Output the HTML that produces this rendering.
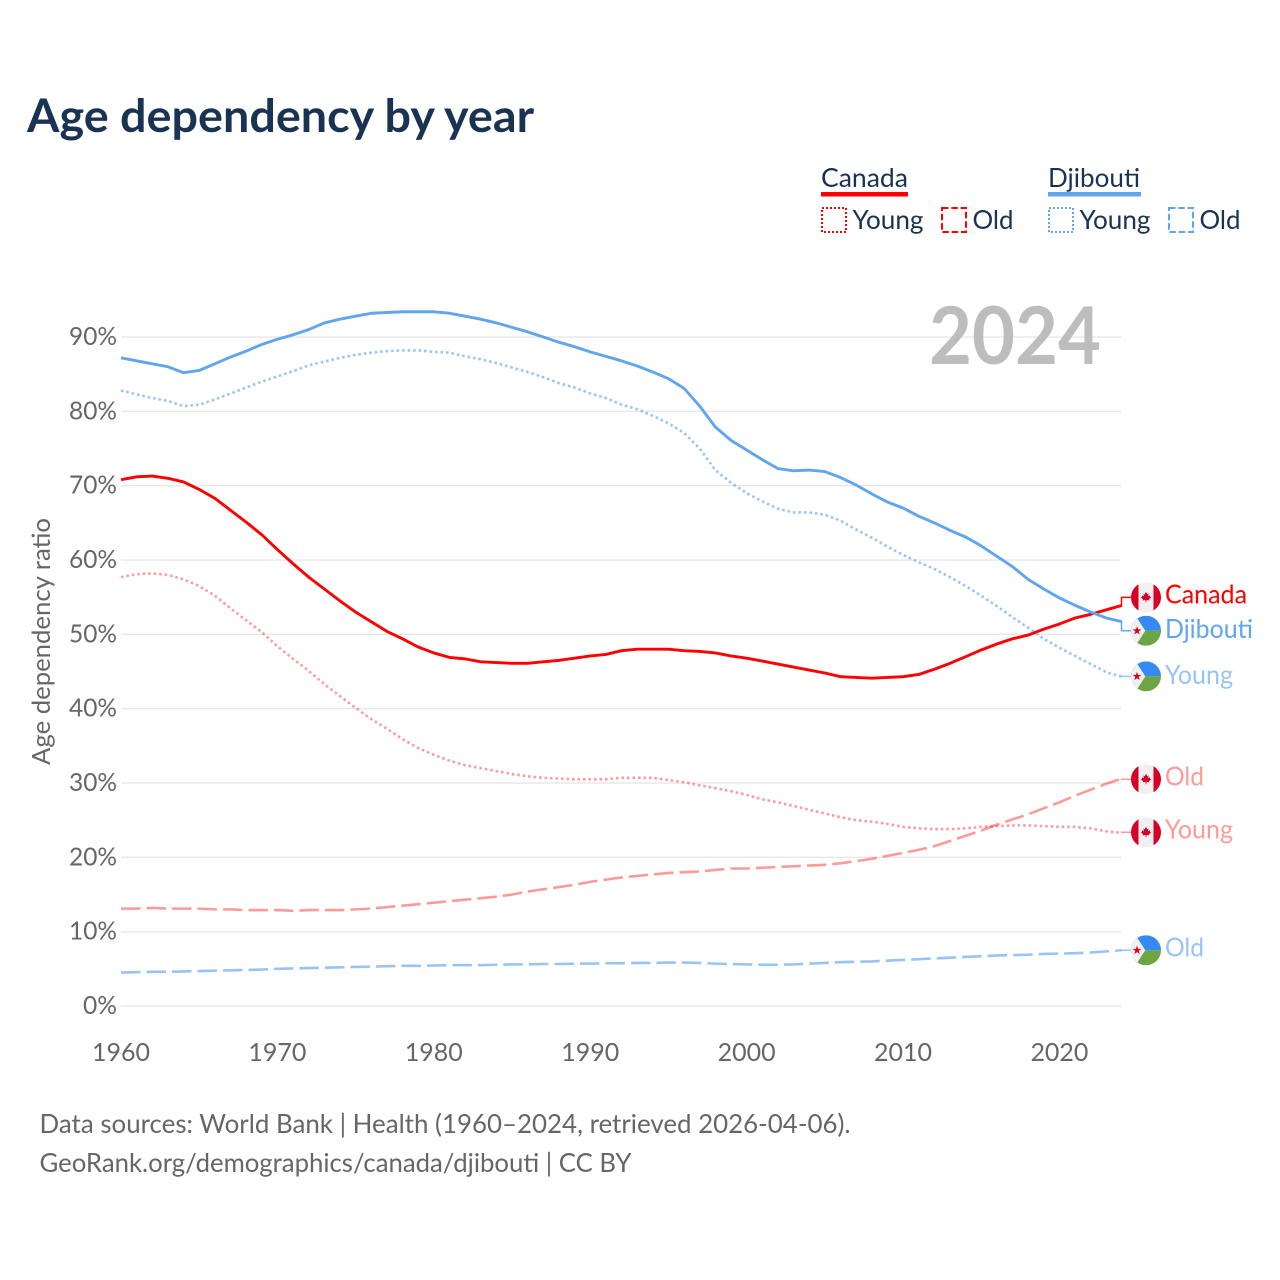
<!DOCTYPE html>
<html lang="en">
<head>
<meta charset="utf-8">
<title>Age dependency by year</title>
<style>
html,body{margin:0;padding:0;background:#fff;}
svg{display:block;font-family:"Lato","Carlito","Liberation Sans",sans-serif;}
</style>
</head>
<body>
<svg id="chart" xmlns="http://www.w3.org/2000/svg" width="1280" height="1280" viewBox="0 0 1280 1280">
  <defs>
    <clipPath id="flag-clip"><circle cx="0" cy="0" r="15"></circle></clipPath>
    <g id="flag-canada" clip-path="url(#flag-clip)">
      <rect x="-15" y="-15" width="30" height="30" fill="#f0f0f0"></rect>
      <rect x="-15" y="-15" width="7.5" height="30" fill="#d80027"></rect>
      <rect x="7.5" y="-15" width="7.5" height="30" fill="#d80027"></rect>
      <polygon fill="#d80027" points="0,-5.5 1.3,-3 2.6,-3.7 2.1,-1 4,-2 4,-0.5 5.2,0 3,1.9 3.4,3 0.4,2.8 0.4,5 -0.4,5 -0.4,2.8 -3.4,3 -3,1.9 -5.2,0 -4,-0.5 -4,-2 -2.1,-1 -2.6,-3.7 -1.3,-3"></polygon>
    </g>
    <g id="flag-djibouti" clip-path="url(#flag-clip)">
      <rect x="-15" y="-15" width="30" height="30" fill="#f0f0f0"></rect>
      <rect x="-15" y="-15" width="30" height="15" fill="#338af3"></rect>
      <rect x="-15" y="0" width="30" height="15" fill="#6da544"></rect>
      <polygon fill="#f0f0f0" points="-15,-15 -10.4,-15 -0.7,0 -10.4,15 -15,15"></polygon>
      <polygon fill="#d80027" points="-9,-4.5 -7.9,-1.4 -4.6,-1.4 -7.3,0.6 -6.3,3.8 -9,1.9 -11.7,3.8 -10.7,0.6 -13.4,-1.4 -10.1,-1.4"></polygon>
    </g>
  </defs>

  <text x="27" y="132" font-size="46" font-weight="700" fill="#1a3353" textLength="507" lengthAdjust="spacingAndGlyphs">Age dependency by year</text>

  <g>
    <text x="821" y="187" font-size="26" fill="#1a3353" textLength="87" lengthAdjust="spacingAndGlyphs">Canada</text>
    <rect x="821" y="192" width="87" height="4.5" fill="#ff0000"></rect>
    <rect x="822" y="208" width="24" height="24" fill="none" stroke="#ff0000" stroke-width="2" stroke-dasharray="2 2"></rect>
    <text x="852.5" y="229" font-size="26" fill="#1a3353" textLength="71" lengthAdjust="spacingAndGlyphs">Young</text>
    <rect x="942" y="208" width="24" height="24" fill="none" stroke="#ff0000" stroke-width="2" stroke-dasharray="6.5 2.8"></rect>
    <text x="972.5" y="229" font-size="26" fill="#1a3353" textLength="41" lengthAdjust="spacingAndGlyphs">Old</text>

    <text x="1048" y="187" font-size="26" fill="#1a3353" textLength="92" lengthAdjust="spacingAndGlyphs">Djibouti</text>
    <rect x="1048" y="192" width="93" height="4.5" fill="#61a5ee"></rect>
    <rect x="1049" y="208" width="24" height="24" fill="none" stroke="#61a5ee" stroke-width="2" stroke-dasharray="2 2"></rect>
    <text x="1079.5" y="229" font-size="26" fill="#1a3353" textLength="71" lengthAdjust="spacingAndGlyphs">Young</text>
    <rect x="1169" y="208" width="24" height="24" fill="none" stroke="#61a5ee" stroke-width="2" stroke-dasharray="6.5 2.8"></rect>
    <text x="1199.5" y="229" font-size="26" fill="#1a3353" textLength="41" lengthAdjust="spacingAndGlyphs">Old</text>
  </g>

  <g id="grid"></g>
  <g id="y-axis"></g>
  <g id="x-axis"></g>

  <text x="929" y="364" font-size="80" font-weight="700" fill="#bdbdbd" textLength="172" lengthAdjust="spacingAndGlyphs">2024</text>

  <text transform="translate(50,765) rotate(-90)" x="0" y="0" font-size="25" fill="#666666" textLength="247" lengthAdjust="spacingAndGlyphs">Age dependency ratio</text>

  <g id="series"></g>
  <g id="labels"></g>

  <text x="39.5" y="1133" font-size="26" fill="#666666" textLength="811" lengthAdjust="spacingAndGlyphs">Data sources: World Bank | Health (1960–2024, retrieved 2026-04-06).</text>
  <text x="39.5" y="1172" font-size="26" fill="#666666" textLength="592" lengthAdjust="spacingAndGlyphs">GeoRank.org/demographics/canada/djibouti | CC BY</text>
</svg>

<script>
var startYear = 1960;
var endYear = 2024;
var yTicks = [0, 10, 20, 30, 40, 50, 60, 70, 80, 90];
var xTicks = [1960, 1970, 1980, 1990, 2000, 2010, 2020];

var canadaTotal = [70.8,71.2,71.3,71.0,70.5,69.5,68.3,66.7,65.1,63.4,61.4,59.5,57.7,56.1,54.5,53.0,51.7,50.4,49.4,48.3,47.5,46.9,46.7,46.3,46.2,46.1,46.1,46.3,46.5,46.8,47.1,47.3,47.8,48.0,48.0,48.0,47.8,47.7,47.5,47.1,46.8,46.4,46.0,45.6,45.2,44.8,44.3,44.2,44.1,44.2,44.3,44.6,45.3,46.1,47.0,47.9,48.7,49.4,49.9,50.7,51.4,52.2,52.7,53.3,53.9];
var canadaYoung = [57.7,58.1,58.2,58.0,57.4,56.5,55.2,53.5,51.9,50.3,48.4,46.7,45.1,43.3,41.7,40.1,38.6,37.3,35.9,34.7,33.8,33.0,32.4,32.0,31.6,31.2,30.9,30.7,30.6,30.5,30.5,30.5,30.7,30.7,30.7,30.4,30.1,29.7,29.3,28.9,28.4,27.8,27.4,26.9,26.4,25.9,25.4,25.0,24.8,24.5,24.1,23.9,23.8,23.8,23.9,24.1,24.2,24.3,24.3,24.2,24.1,24.1,23.9,23.5,23.3];
var canadaOld = [13.1,13.1,13.2,13.1,13.1,13.1,13.0,13.0,12.9,12.9,12.9,12.8,12.9,12.9,12.9,13.0,13.1,13.3,13.5,13.7,13.9,14.1,14.3,14.5,14.7,15.0,15.4,15.7,16.0,16.3,16.7,17.0,17.3,17.5,17.7,17.9,18.0,18.1,18.3,18.5,18.5,18.6,18.7,18.8,18.9,19.0,19.2,19.5,19.8,20.2,20.6,21.0,21.5,22.2,22.9,23.6,24.4,25.1,25.8,26.6,27.4,28.3,29.1,29.9,30.6];
var djiboutiTotal = [87.2,86.8,86.4,86.0,85.2,85.5,86.4,87.3,88.1,89.0,89.7,90.3,91.0,91.9,92.4,92.8,93.2,93.3,93.4,93.4,93.4,93.2,92.8,92.4,91.9,91.3,90.7,90.0,89.3,88.7,88.0,87.4,86.8,86.1,85.3,84.4,83.1,80.7,77.9,76.1,74.8,73.5,72.3,72.0,72.1,71.9,71.1,70.1,68.9,67.8,67.0,65.9,65.0,64.0,63.1,61.9,60.5,59.1,57.4,56.1,54.9,53.9,53.0,52.2,51.7];
var djiboutiYoung = [82.8,82.3,81.8,81.4,80.7,80.9,81.6,82.4,83.2,84.0,84.7,85.4,86.2,86.7,87.2,87.6,87.9,88.1,88.2,88.2,88.0,87.9,87.4,87.0,86.5,85.9,85.3,84.6,83.8,83.2,82.4,81.8,80.9,80.3,79.4,78.4,77.1,75.0,72.1,70.4,69.0,67.9,66.9,66.4,66.4,66.1,65.3,64.1,63.0,61.8,60.7,59.7,58.8,57.7,56.5,55.2,53.8,52.3,50.9,49.4,48.2,47.1,46.0,44.9,44.3];
var djiboutiOld = [4.5,4.55,4.6,4.6,4.65,4.7,4.75,4.8,4.85,4.9,5.0,5.05,5.1,5.15,5.2,5.25,5.3,5.35,5.4,5.4,5.45,5.5,5.5,5.5,5.55,5.6,5.6,5.65,5.65,5.7,5.7,5.75,5.75,5.8,5.8,5.85,5.85,5.8,5.7,5.65,5.6,5.55,5.55,5.6,5.7,5.8,5.9,5.95,6.0,6.1,6.2,6.3,6.4,6.5,6.6,6.7,6.8,6.85,6.9,7.0,7.05,7.1,7.2,7.35,7.5];

var NS = 'http://www.w3.org/2000/svg';
var PLOT_LEFT = 121, PLOT_RIGHT = 1122, PLOT_ZERO = 1006, PX_PER_PCT = 7.433;
var LABEL_X = 1165, FLAG_X = 1146;

function xScale(year) {
  return PLOT_LEFT + (year - startYear) * (PLOT_RIGHT - PLOT_LEFT) / (endYear - startYear);
}
function yScale(pct) {
  return PLOT_ZERO - pct * PX_PER_PCT;
}
function make(tag, attrs, parent) {
  var el = document.createElementNS(NS, tag);
  for (var k in attrs) { el.setAttribute(k, attrs[k]); }
  parent.appendChild(el);
  return el;
}

var gridGroup = document.getElementById('grid');
var yAxisGroup = document.getElementById('y-axis');
var xAxisGroup = document.getElementById('x-axis');
var seriesGroup = document.getElementById('series');
var labelGroup = document.getElementById('labels');

yTicks.forEach(function (t) {
  var line = make('line', {x1: PLOT_LEFT, x2: PLOT_RIGHT - 1, y1: yScale(t), y2: yScale(t), stroke: '#e8e8e8', 'stroke-width': 1.4}, gridGroup);
  
  
  var label = make('text', {x: 117, y: yScale(t) + 8, 'text-anchor': 'end', 'font-size': 25, fill: '#666666', textLength: t === 0 ? 34 : 48, lengthAdjust: 'spacingAndGlyphs'}, yAxisGroup);
  
  
  label.textContent = t + '%';
});

xTicks.forEach(function (t) {
  var label = make('text', {x: xScale(t), y: 1061, 'text-anchor': 'middle', 'font-size': 25, fill: '#666666', textLength: 58, lengthAdjust: 'spacingAndGlyphs'}, xAxisGroup);
  
  
  label.textContent = t;
});

function drawSeries(name, values, color, width, opacity, dash, flag, labelText, labelWidth, labelShift, textDy) {
  var pts = values.map(function (v, i) {
    return xScale(startYear + i).toFixed(2) + ',' + yScale(v).toFixed(2);
  }).join(' ');
  var attrs = {points: pts, fill: 'none', stroke: color, 'stroke-width': width, 'stroke-opacity': opacity, 'stroke-linejoin': 'round'};
  if (dash) { attrs['stroke-dasharray'] = dash; }
  var line = make('polyline', attrs, seriesGroup);
  
  

  var last = yScale(values[values.length - 1]);
  var cy = last + labelShift;
  var conn = make('polyline', {
    points: (PLOT_RIGHT - 0.5) + ',' + last + ' ' + (PLOT_RIGHT - 0.5) + ',' + cy + ' ' + (FLAG_X - 15) + ',' + cy,
    fill: 'none', stroke: color, 'stroke-width': 1.5, 'stroke-opacity': opacity
  }, labelGroup);
  
  

  var f = make('use', {href: '#flag-' + flag, transform: 'translate(' + FLAG_X + ',' + cy + ')'}, labelGroup);
  
  

  var t = make('text', {x: LABEL_X, y: cy + textDy, 'font-size': 26, fill: color, 'fill-opacity': opacity, textLength: labelWidth, lengthAdjust: 'spacingAndGlyphs'}, labelGroup);
  
  
  t.textContent = labelText;
}

drawSeries('canada-young', canadaYoung, '#ff0000', 2.6, 0.4, '2.5 3', 'canada', 'Young', 68, -0.5, 6);
drawSeries('canada-old', canadaOld, '#ff0000', 2.6, 0.4, '19.5 6', 'canada', 'Old', 39, 0.7, 6);
drawSeries('canada-total', canadaTotal, '#ff0000', 2.9, 1, '', 'canada', 'Canada', 82, -8, 6);
drawSeries('djibouti-young', djiboutiYoung, '#61a5ee', 2.6, 0.65, '2.5 3', 'djibouti', 'Young', 68, -0.4, 7.8);
drawSeries('djibouti-old', djiboutiOld, '#61a5ee', 2.6, 0.65, '19.5 6', 'djibouti', 'Old', 39, 0, 6.4);
drawSeries('djibouti-total', djiboutiTotal, '#61a5ee', 2.9, 1, '', 'djibouti', 'Djibouti', 88, 9, 7.3);
</script>
</body>
</html>
